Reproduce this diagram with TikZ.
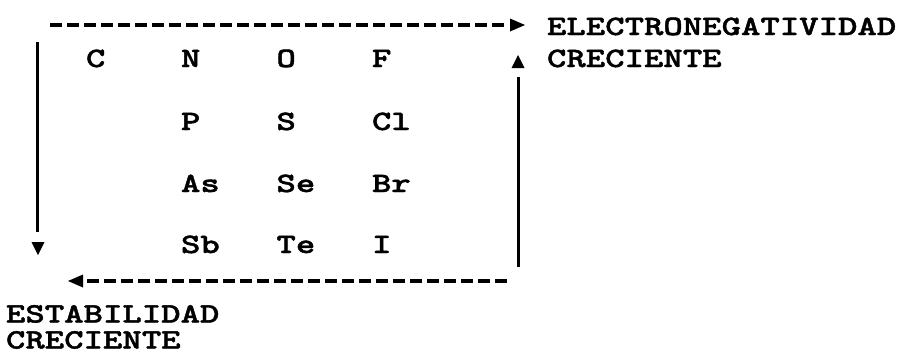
\documentclass[tikz,border=0pt]{standalone}
\usepackage{fontspec}
\newfontfamily\typefont{lmmonolt10-bold.otf}[FakeStretch=1.32,FakeBold=1.5]
\begin{document}
\begin{tikzpicture}[x=1pt,y=-1pt,
  txt/.style={anchor=base west,inner sep=0pt,outer sep=0pt,
    font=\fontsize{28}{32}\typefont},
  dashline/.style={line width=4pt,dash pattern=on 12pt off 5pt},
  solidline/.style={line width=3pt},
  head/.style={fill=black}]
\useasboundingbox (0,0) rectangle (901,356);

% element table, left-aligned columns
\node[txt] (C)  at (86,67)    {C};
\node[txt] (N)  at (181,67)   {N};
\node[txt] (O)  at (276.5,67) {O};
\node[txt] (F)  at (372,67)   {F};
\node[txt] (P)  at (181,130)   {P};
\node[txt] (S)  at (276.5,130) {S};
\node[txt] (Cl) at (372,130)   {Cl};
\node[txt] (As) at (181,192)   {As};
\node[txt] (Se) at (276.5,192) {Se};
\node[txt] (Br) at (372,192)   {Br};
\node[txt] (Sb) at (181,253)   {Sb};
\node[txt] (Te) at (276.5,253) {Te};
\node[txt] (I)  at (372,253)   {I};

% trend labels
\node[txt] (en1) at (547,35)  {ELECTRONEGATIVIDAD};
\node[txt] (en2) at (547,67)  {CRECIENTE};
\node[txt] (es1) at (6,322.5) {ESTABILIDAD};
\node[txt] (es2) at (6,348.5) {CRECIENTE};

% line end points
\coordinate (topA) at (50,25);
\coordinate (topB) at (508,25);
\coordinate (rgtA) at (518,267);
\coordinate (rgtB) at (518,77);
\coordinate (botA) at (507,281);
\coordinate (botB) at (86,281);
\coordinate (lftA) at (37,42);
\coordinate (lftB) at (37,232);

% arrow lines
\draw[dashline] (topA) -- (topB);
\draw[solidline] (rgtA) -- (rgtB);
\draw[dashline] (botA) -- (botB);
\draw[solidline] (lftA) -- (lftB);

% arrowheads
\fill[head] (525,25) -- (510,18.5) -- (510,31.5) -- cycle;
\fill[head] (518,55) -- (511.5,68) -- (524.5,68) -- cycle;
\fill[head] (38,255) -- (31.5,242) -- (44.5,242) -- cycle;
\fill[head] (68,281) -- (83,274.5) -- (83,287.5) -- cycle;
\end{tikzpicture}
\end{document}
